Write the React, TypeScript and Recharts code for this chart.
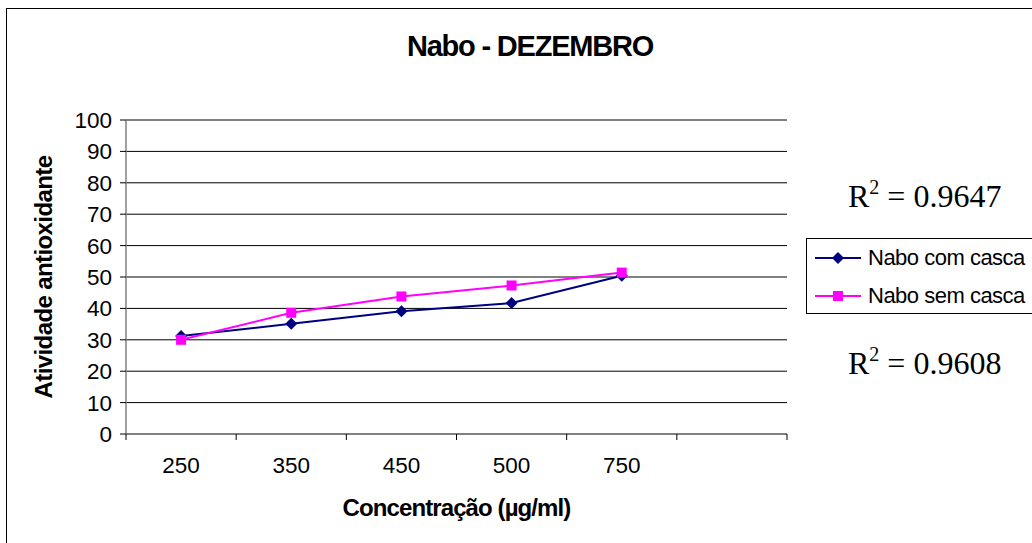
import React from 'react';
import { LineChart, Line, XAxis, YAxis, CartesianGrid, Legend } from 'recharts';

// concentration categories (last slot is empty, as in the original sheet)
const categories = ['250', '350', '450', '500', '750', ''];
const comCasca = [31.2, 35.1, 39.1, 41.7, 50.4];
const semCasca = [30.0, 38.6, 43.8, 47.3, 51.4];
const seriesNames = ['Nabo com casca', 'Nabo sem casca'];
const seriesColors = ['#000080', '#FF00FF'];
const yTicks = [0, 10, 20, 30, 40, 50, 60, 70, 80, 90, 100];
const r2Values = ['0.9647', '0.9608'];

const W = 1032;
const H = 543;
const PLOT = { left: 126, top: 120, right: 787, bottom: 434 };
const Y_AXIS_W = 60;
const X_AXIS_H = 40;
const HALF_BAND = (PLOT.right - PLOT.left) / categories.length / 2;
const SANS = '"Liberation Sans", Arial, sans-serif';
const SERIF = '"Liberation Serif", "Times New Roman", serif';

const data = comCasca.map((v, i) => ({
  pos: i + 0.5,
  label: categories[i],
  com: v,
  sem: semCasca[i],
}));
const xTicks = categories.map((_, i) => i).concat(categories.length);

const Diamond = ({ cx, cy, color, r = 6 }: any) => (
  <path d={`M${cx},${cy - r}L${cx + r},${cy}L${cx},${cy + r}L${cx - r},${cy}Z`} fill={color} />
);

const Square = ({ cx, cy, color, r = 5 }: any) => (
  <rect x={cx - r} y={cy - r} width={r * 2} height={r * 2} fill={color} />
);

const CategoryTick = (props: any) => {
  const { x, y, payload } = props;
  const label = categories[payload.value];
  if (!label) return <g />;
  return (
    <text
      x={x + HALF_BAND}
      y={y}
      dy={31}
      textAnchor="middle"
      fontFamily={SANS}
      fontSize={22.5}
      fill="#000"
    >
      {label}
    </text>
  );
};

const ValueTick = (props: any) => {
  const { x, y, payload } = props;
  return (
    <text
      x={x}
      y={y}
      dy={8}
      textAnchor="end"
      fontFamily={SANS}
      fontSize={22.5}
      fill="#000"
    >
      {payload.value}
    </text>
  );
};

const LegendBox = ({ payload }: any) => (
  <div
    style={{
      border: '1px solid #000',
      background: '#fff',
      width: 300,
      height: 76,
      boxSizing: 'border-box',
      fontFamily: SANS,
      fontSize: 22,
      letterSpacing: -0.5,
    }}
  >
    {(payload || []).map((entry: any) => (
      <div key={entry.value} style={{ display: 'flex', alignItems: 'center', height: 38, whiteSpace: 'nowrap' }}>
        <svg width={58} height={20} style={{ flex: 'none' }}>
          <line x1={8} y1={10} x2={54} y2={10} stroke={entry.color} strokeWidth={2} />
          {entry.type === 'diamond' ? (
            <Diamond cx={31} cy={10} color={entry.color} />
          ) : (
            <Square cx={31} cy={10} color={entry.color} />
          )}
        </svg>
        <span style={{ marginLeft: 3 }}>{entry.value}</span>
      </div>
    ))}
  </div>
);

export default function App() {
  return (
    <div style={{ position: 'absolute', left: 0, top: 0, width: W, height: H, overflow: 'hidden', background: '#fff' }}>
      <div
        style={{
          position: 'absolute',
          left: 6,
          top: 8,
          width: W + 20,
          height: H + 20,
          border: '1.5px solid #000',
        }}
      />
      <LineChart
        width={W}
        height={H}
        data={data}
        margin={{
          top: PLOT.top,
          right: W - PLOT.right,
          bottom: H - PLOT.bottom - X_AXIS_H,
          left: PLOT.left - Y_AXIS_W,
        }}
      >
        <CartesianGrid vertical={false} stroke="#000" strokeWidth={1} />
        <XAxis
          dataKey="pos"
          type="number"
          domain={[0, categories.length]}
          ticks={xTicks}
          interval={0}
          height={X_AXIS_H}
          tickSize={6}
          axisLine={{ stroke: '#808080', strokeWidth: 1.5 }}
          tickLine={{ stroke: '#000' }}
          tick={<CategoryTick />}
        />
        <YAxis
          type="number"
          domain={[0, 100]}
          ticks={yTicks}
          interval={0}
          width={Y_AXIS_W}
          tickSize={6}
          tickMargin={8}
          axisLine={{ stroke: '#808080', strokeWidth: 1.5 }}
          tickLine={{ stroke: '#000' }}
          tick={<ValueTick />}
        />
        <Legend
          layout="horizontal"
          align="center"
          verticalAlign="middle"
          content={<LegendBox />}
          wrapperStyle={{ left: 806, top: 238, width: 300, height: 76 }}
        />
        <Line
          type="linear"
          dataKey="com"
          name={seriesNames[0]}
          stroke={seriesColors[0]}
          strokeWidth={2}
          legendType="diamond"
          dot={(p: any) => <Diamond key={`d${p.index}`} cx={p.cx} cy={p.cy} color={seriesColors[0]} />}
          activeDot={false}
          isAnimationActive={false}
        />
        <Line
          type="linear"
          dataKey="sem"
          name={seriesNames[1]}
          stroke={seriesColors[1]}
          strokeWidth={2}
          legendType="square"
          dot={(p: any) => <Square key={`s${p.index}`} cx={p.cx} cy={p.cy} color={seriesColors[1]} />}
          activeDot={false}
          isAnimationActive={false}
        />
      </LineChart>
      <svg width={W} height={H} style={{ position: 'absolute', left: 0, top: 0, pointerEvents: 'none' }}>
        <text
          x={530}
          y={56}
          textAnchor="middle"
          fontFamily={SANS}
          fontWeight="bold"
          fontSize={29}
          letterSpacing={-1.2}
        >
          Nabo - DEZEMBRO
        </text>
        <text
          x={0}
          y={0}
          transform={`translate(52, ${(PLOT.top + PLOT.bottom) / 2}) rotate(-90)`}
          textAnchor="middle"
          fontFamily={SANS}
          fontWeight="bold"
          fontSize={24}
          letterSpacing={-0.6}
        >
          Atividade antioxidante
        </text>
        <text
          x={(PLOT.left + PLOT.right) / 2}
          y={516}
          textAnchor="middle"
          fontFamily={SANS}
          fontWeight="bold"
          fontSize={24}
          letterSpacing={-0.9}
        >
          Concentração (µg/ml)
        </text>
        {r2Values.map((v, i) => (
          <text key={v} x={848} y={i === 0 ? 207 : 374} fontFamily={SERIF} fontSize={32}>
            R
            <tspan fontSize={20} dy={-13}>2</tspan>
            <tspan dy={13}>{` = ${v}`}</tspan>
          </text>
        ))}
      </svg>
    </div>
  );
}
